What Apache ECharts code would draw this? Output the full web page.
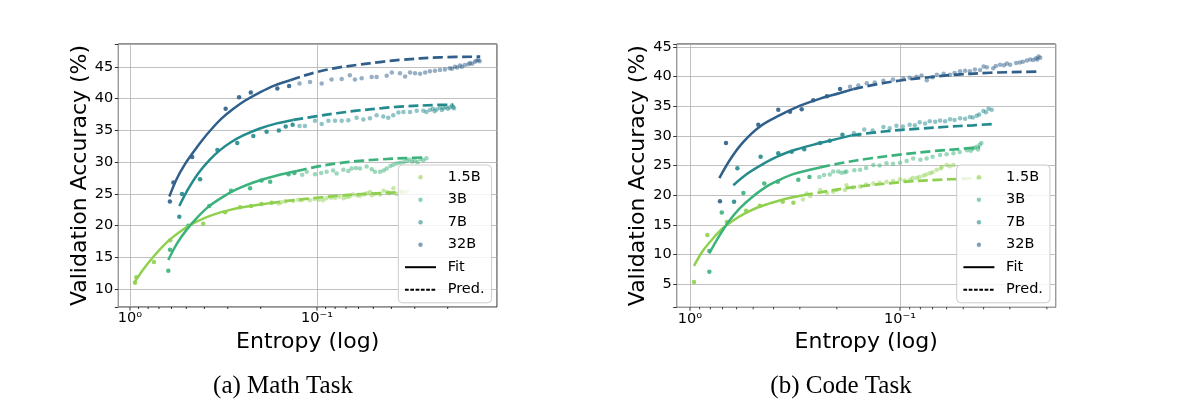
<!DOCTYPE html>
<html>
<head>
<meta charset="utf-8">
<title>Entropy vs Validation Accuracy</title>
<script src="https://cdn.jsdelivr.net/npm/echarts/dist/echarts.min.js"></script>
<style>
  html, body { margin: 0; padding: 0; background: #fff; }
  #main { width: 1200px; height: 416px; }
</style>
</head>
<body>
<div id="main"></div>
<script>
// ---- data: [entropy, accuracy %] ----
var modelNames = ['1.5B', '3B', '7B', '32B'];
var modelColors = ['#8fd14f', '#3bb27b', '#238a8d', '#2f5f8a'];
var majorTicks = [1, 0.1];
var minorTicks = [0.9, 0.8, 0.7, 0.6, 0.5, 0.4, 0.3, 0.2, 0.09, 0.08, 0.07, 0.06, 0.05, 0.04, 0.03, 0.02];

// (a) Math task
var math15Pts = [[0.94,11.0],[0.925,11.9],[0.745,14.3],[0.61,17.7],[0.406,20.3],[0.31,22.1],[0.258,22.9],[0.225,23.1],[0.198,23.4],[0.175,23.6]];
var math15PredPts = [[0.16,23.5],[0.155,23.7],[0.148,23.8],[0.134,23.9],[0.126,24.1],[0.121,24.0],[0.109,24.0],[0.103,24.2],[0.098,24.1],[0.093,24.0],[0.089,24.3],[0.084,24.4],[0.080,24.4],[0.076,24.6],[0.072,24.3],[0.069,24.5],[0.067,24.6],[0.064,24.9],[0.061,24.8],[0.059,24.7],[0.056,24.9],[0.054,25.1],[0.052,25.3],[0.051,24.8],[0.049,25.0],[0.046,24.9],[0.044,25.5],[0.042,25.3],[0.041,25.1],[0.039,25.9],[0.0375,25.0],[0.036,25.5],[0.0345,25.3],[0.033,25.4]];
var math15FitLine = [[0.952,10.95],[0.85,13.1],[0.75,15.1],[0.66,16.9],[0.59,18.2],[0.52,19.4],[0.46,20.35],[0.40,21.2],[0.345,21.9],[0.295,22.45],[0.25,22.9],[0.21,23.25],[0.178,23.55]];
var math15PredLine = [[0.178,23.55],[0.14,23.95],[0.1,24.4],[0.075,24.75],[0.055,25.0],[0.0345,25.3]];

var math3Pts = [[0.624,12.9],[0.611,16.2],[0.488,20.0],[0.377,23.1],[0.288,25.5],[0.228,25.9],[0.198,27.1],[0.178,26.9],[0.142,28.1],[0.132,28.3]];
var math3PredPts = [[0.12,28.0],[0.1135,28.5],[0.1025,28.1],[0.095,28.3],[0.0888,28.5],[0.082,28.7],[0.0785,28.2],[0.0723,28.8],[0.068,28.6],[0.0653,29.0],[0.062,29.1],[0.0589,29.0],[0.0543,29.3],[0.051,28.9],[0.049,28.5],[0.046,28.5],[0.044,28.7],[0.0424,29.0],[0.0405,29.4],[0.0391,29.6],[0.0375,29.8],[0.036,29.9],[0.0345,30.0],[0.0331,30.2],[0.032,30.4],[0.031,30.1],[0.030,30.3],[0.029,30.0],[0.028,30.5],[0.027,30.3],[0.026,30.6]];
var math3FitLine = [[0.624,14.6],[0.56,17.2],[0.5,19.3],[0.44,21.2],[0.38,23.0],[0.32,24.5],[0.27,25.7],[0.219,26.8],[0.164,27.9],[0.128,28.6]];
var math3PredLine = [[0.128,28.6],[0.1,29.3],[0.078,29.8],[0.059,30.2],[0.045,30.45],[0.033,30.65],[0.026,30.75]];

var math7Pts = [[0.545,21.4],[0.527,25.0],[0.422,27.3],[0.341,31.9],[0.267,33.0],[0.219,34.1],[0.186,34.8],[0.16,35.0],[0.147,35.6],[0.135,35.9]];
var math7PredPts = [[0.124,35.7],[0.116,35.7],[0.1025,36.5],[0.0944,36.0],[0.0869,36.5],[0.0801,36.5],[0.0738,36.5],[0.068,36.6],[0.0614,37.0],[0.0565,36.7],[0.0521,36.9],[0.048,37.4],[0.0442,37.2],[0.0416,37.0],[0.0391,37.4],[0.0367,37.8],[0.0345,37.9],[0.0318,37.9],[0.0293,38.1],[0.027,38.1],[0.026,37.9],[0.0249,38.2],[0.024,38.4],[0.0235,38.0],[0.0229,38.3],[0.022,38.6],[0.0215,38.2],[0.0211,38.5],[0.0205,38.7],[0.02,38.4],[0.0195,38.6],[0.019,38.9],[0.0187,38.7],[0.0185,38.5]];
var math7FitLine = [[0.545,23.1],[0.49,25.7],[0.43,28.3],[0.374,30.4],[0.33,31.9],[0.29,33.1],[0.248,34.2],[0.202,35.3],[0.164,36.1],[0.134,36.65]];
var math7PredLine = [[0.134,36.65],[0.1,37.25],[0.0785,37.7],[0.0614,38.1],[0.045,38.5],[0.036,38.75],[0.0229,39.0],[0.0187,39.05]];

var math32Pts = [[0.612,23.8],[0.586,26.8],[0.465,30.8],[0.308,38.4],[0.261,40.2],[0.226,40.95],[0.163,41.6],[0.141,42.0]];
var math32PredPts = [[0.124,42.4],[0.109,42.6],[0.0944,42.4],[0.0836,43.0],[0.0738,43.1],[0.0667,43.7],[0.0627,43.0],[0.0577,43.2],[0.051,43.4],[0.048,43.4],[0.0424,43.6],[0.0398,44.1],[0.036,44.0],[0.0338,43.5],[0.0318,44.1],[0.0299,44.0],[0.0281,43.9],[0.0264,44.1],[0.0249,44.3],[0.0234,44.4],[0.022,44.5],[0.0207,44.6],[0.0195,44.8],[0.019,44.7],[0.0183,45.0],[0.0178,44.9],[0.0172,45.2],[0.0168,45.0],[0.0162,45.3],[0.0155,45.4],[0.0152,45.6],[0.0148,45.5],[0.0143,45.8],[0.014,46.0],[0.0137,46.1],[0.0135,45.9]];
var math32FitLine = [[0.616,24.6],[0.562,27.4],[0.51,29.6],[0.458,31.6],[0.41,33.5],[0.364,35.3],[0.32,37.0],[0.28,38.4],[0.242,39.7],[0.202,41.0],[0.168,42.1],[0.139,42.9]];
var math32PredLine = [[0.139,42.9],[0.118,43.6],[0.1,44.2],[0.0785,44.85],[0.0614,45.3],[0.045,45.8],[0.036,46.1],[0.022,46.5],[0.0134,46.6]];

// (b) Code task
var code15Pts = [[0.957,5.4],[0.827,13.3],[0.668,15.5],[0.541,17.4],[0.465,18.25],[0.362,18.9],[0.322,18.75]];
var code15PredPts = [[0.29,19.3],[0.278,20.3],[0.268,19.9],[0.24,20.9],[0.223,20.4],[0.208,20.6],[0.2,20.9],[0.183,20.9],[0.18,21.7],[0.168,21.3],[0.155,21.5],[0.145,21.8],[0.134,22.0],[0.125,22.1],[0.116,22.3],[0.108,22.4],[0.1,22.7],[0.095,22.5],[0.0896,22.6],[0.087,22.9],[0.0833,22.9],[0.081,23.1],[0.0774,23.3],[0.075,23.5],[0.072,23.7],[0.07,23.9],[0.0669,24.3],[0.064,24.5],[0.0633,24.8],[0.06,25.1],[0.058,24.9],[0.0557,25.1]];
var code15FitLine = [[0.957,8.1],[0.87,10.6],[0.774,12.8],[0.7,14.4],[0.62,15.8],[0.55,16.9],[0.48,17.9],[0.42,18.6],[0.36,19.3],[0.29,20.0]];
var code15PredLine = [[0.29,20.0],[0.24,20.5],[0.173,21.3],[0.1,22.2],[0.0708,22.55],[0.0408,22.9]];

var code3Pts = [[0.809,7.1],[0.809,10.6],[0.706,17.1],[0.557,20.4],[0.443,22.0],[0.382,22.3],[0.305,22.6],[0.27,23.1]];
var code3PredPts = [[0.242,23.1],[0.23,23.4],[0.216,23.5],[0.208,24.0],[0.197,24.0],[0.19,23.8],[0.183,23.9],[0.18,24.0],[0.165,24.2],[0.155,24.3],[0.145,24.6],[0.134,25.1],[0.125,25.0],[0.116,25.4],[0.108,25.3],[0.1,25.5],[0.093,25.8],[0.0866,26.2],[0.08,26.0],[0.0747,26.2],[0.07,26.5],[0.0645,26.8],[0.06,26.9],[0.0557,27.1],[0.052,27.3],[0.048,27.6],[0.046,27.5],[0.045,27.9],[0.044,28.0],[0.043,28.2],[0.0425,27.7],[0.0417,28.5],[0.041,28.8]];
var code3FitLine = [[0.81,10.2],[0.73,13.0],[0.65,15.7],[0.58,17.8],[0.51,19.6],[0.44,21.3],[0.38,22.5],[0.32,23.6],[0.24,24.7]];
var code3PredLine = [[0.24,24.7],[0.193,25.4],[0.14,26.2],[0.1,26.85],[0.07,27.45],[0.05,27.85],[0.0416,28.1]];

var code7Pts = [[0.617,18.9],[0.595,24.55],[0.461,26.5],[0.38,27.1],[0.328,27.35],[0.286,27.75],[0.24,28.8],[0.216,29.2],[0.188,30.2]];
var code7PredPts = [[0.166,30.5],[0.157,30.2],[0.148,31.1],[0.135,30.9],[0.12,31.5],[0.112,31.3],[0.104,31.7],[0.097,31.6],[0.09,31.9],[0.085,31.8],[0.0806,32.3],[0.076,32.1],[0.0722,32.5],[0.068,32.4],[0.0645,32.6],[0.061,32.5],[0.0578,32.8],[0.055,32.7],[0.0518,33.0],[0.049,32.9],[0.0465,33.2],[0.045,33.1],[0.0431,33.4],[0.042,33.6],[0.0401,34.2],[0.039,34.0],[0.0379,34.6],[0.0366,34.4]];
var code7FitLine = [[0.622,21.7],[0.53,23.7],[0.448,25.3],[0.38,26.6],[0.31,27.75],[0.26,28.5],[0.216,29.2],[0.17,30.1]];
var code7PredLine = [[0.17,30.1],[0.12,30.75],[0.08,31.25],[0.06,31.55],[0.045,31.8],[0.0366,32.0]];

var code32Pts = [[0.72,19.0],[0.674,28.8],[0.473,31.9],[0.38,34.4],[0.334,34.1],[0.294,34.5],[0.259,36.0],[0.223,36.7],[0.193,37.9]];
var code32PredPts = [[0.173,38.3],[0.158,38.5],[0.144,38.9],[0.132,39.0],[0.12,39.3],[0.108,39.5],[0.0964,39.7],[0.09,39.8],[0.0834,40.0],[0.079,40.2],[0.0746,39.4],[0.07,39.9],[0.0668,40.3],[0.062,40.5],[0.0578,40.3],[0.055,40.6],[0.0518,40.9],[0.049,41.0],[0.0465,40.9],[0.044,41.2],[0.0416,41.1],[0.04,41.7],[0.0386,41.6],[0.036,41.4],[0.035,41.8],[0.0334,42.0],[0.032,41.9],[0.031,42.2],[0.0299,42.0],[0.028,42.3],[0.0269,42.4],[0.026,42.5],[0.0249,42.7],[0.024,42.9],[0.0232,42.8],[0.0225,43.1],[0.0222,42.9],[0.0219,43.4],[0.0215,43.2]];
var code32FitLine = [[0.725,22.9],[0.645,26.0],[0.557,29.0],[0.464,31.6],[0.373,33.5],[0.299,35.1],[0.24,36.3],[0.193,37.25],[0.167,37.9]];
var code32PredLine = [[0.167,37.9],[0.13,38.7],[0.1,39.35],[0.075,39.85],[0.0578,40.25],[0.0373,40.65],[0.0219,40.85]];

// axis ranges
var mathX = [0.0109, 1.155], mathY = [7.2, 48.6];
var codeX = [0.01815, 1.157], codeY = [1.12, 45.5];

var FONT = 'DejaVu Sans';
var supMap = { '0': '\u2070', '1': '\u00b9', '2': '\u00b2', '3': '\u00b3', '-': '\u207b' };

function powLabel(v) {
    var l = Math.log(v) / Math.LN10;
    var e = Math.round(l);
    if (Math.abs(l - e) > 1e-6) return '';
    return '10' + String(e).split('').map(function (c) { return supMap[c]; }).join('');
}

function xAxisFor(gi, range) {
    return {
        type: 'log', logBase: 10, gridIndex: gi, inverse: true,
        min: range[0], max: range[1],
        axisLine: { show: false }, axisTick: { show: false },
        splitLine: { show: true, lineStyle: { color: '#b0b0b0', width: 0.8 } },
        axisLabel: { formatter: powLabel, fontFamily: FONT, fontSize: 14.5, color: '#000', margin: 4 },
        name: 'Entropy (log)', nameLocation: 'middle', nameGap: 21,
        nameTextStyle: { fontFamily: FONT, fontSize: 22, color: '#000' }
    };
}

function yAxisFor(gi, range) {
    return {
        type: 'value', gridIndex: gi, min: range[0], max: range[1],
        splitNumber: 8, minInterval: 5, maxInterval: 5,
        axisLine: { show: false },
        axisTick: { show: true, length: 3.5, lineStyle: { color: '#000', width: 0.8 } },
        splitLine: { show: true, lineStyle: { color: '#b0b0b0', width: 0.8 } },
        axisLabel: {
            formatter: function (v) { return Math.abs(v % 5) < 1e-9 ? String(v) : ''; },
            fontFamily: FONT, fontSize: 14.5, color: '#000', margin: 5
        },
        name: 'Validation Accuracy (%)', nameLocation: 'middle', nameGap: 27,
        nameTextStyle: { fontFamily: FONT, fontSize: 22, color: '#000' }
    };
}

// matplotlib-style log ticks under the x axis
function tickSeries(gi, vals, len, yMin) {
    return {
        type: 'custom', xAxisIndex: gi, yAxisIndex: gi, silent: true, clip: false,
        data: vals.map(function (v) { return [v, yMin]; }),
        renderItem: function (params, api) {
            var cs = params.coordSys;
            var x = api.coord([api.value(0), api.value(1)])[0];
            var b = cs.y + cs.height;
            return { type: 'line', shape: { x1: x, y1: b, x2: x, y2: b + len },
                     style: { stroke: '#000', lineWidth: 0.8 } };
        }
    };
}

function modelSeries(gi, k, pts, predPts, fitLine, predLine) {
    var c = modelColors[k], n = modelNames[k];
    return [
        { type: 'scatter', name: n, xAxisIndex: gi, yAxisIndex: gi, data: predPts,
          symbolSize: 4.5, itemStyle: { color: c, opacity: 0.5 }, z: 2 },
        { type: 'scatter', name: n, xAxisIndex: gi, yAxisIndex: gi, data: pts,
          symbolSize: 4.5, itemStyle: { color: c, opacity: 0.9 }, z: 2 },
        { type: 'line', name: n + ' fit', xAxisIndex: gi, yAxisIndex: gi, data: fitLine,
          symbol: 'none', smooth: 0.35, lineStyle: { color: c, width: 2.5 }, z: 3 },
        { type: 'line', name: n + ' pred', xAxisIndex: gi, yAxisIndex: gi, data: predLine,
          symbol: 'none', smooth: 0.35, lineStyle: { color: c, width: 2.7, type: [10, 4.5] }, z: 3 }
    ];
}

// small dot inside a 31x14 box for the scatter legend entries
var dotIcon = 'path://M0,0M31,14M13.3,7A2.2,2.2,0,1,1,17.7,7A2.2,2.2,0,1,1,13.3,7Z';

function legendAt(left, top) {
    var items = modelNames.map(function (n) {
        return { name: n, icon: dotIcon, itemStyle: { opacity: 0.6 } };
    });
    items.push({ name: 'Fit', itemStyle: { opacity: 0 } });
    items.push({ name: 'Pred.', itemStyle: { opacity: 0 } });
    return {
        data: items, orient: 'vertical', left: left, top: top,
        itemWidth: 31, itemHeight: 14, itemGap: 7.5,
        padding: [4.7, 7, 5.6, 5.7],
        backgroundColor: 'rgba(255,255,255,0.8)', borderColor: '#cccccc', borderWidth: 1, borderRadius: 4,
        selectedMode: false,
        textStyle: { fontFamily: FONT, fontSize: 14.5, color: '#000', padding: [0, 0, 0, 6.7] }
    };
}

var series = [];
series = series.concat(
    modelSeries(0, 0, math15Pts, math15PredPts, math15FitLine, math15PredLine),
    modelSeries(0, 1, math3Pts, math3PredPts, math3FitLine, math3PredLine),
    modelSeries(0, 2, math7Pts, math7PredPts, math7FitLine, math7PredLine),
    modelSeries(0, 3, math32Pts, math32PredPts, math32FitLine, math32PredLine),
    modelSeries(1, 0, code15Pts, code15PredPts, code15FitLine, code15PredLine),
    modelSeries(1, 1, code3Pts, code3PredPts, code3FitLine, code3PredLine),
    modelSeries(1, 2, code7Pts, code7PredPts, code7FitLine, code7PredLine),
    modelSeries(1, 3, code32Pts, code32PredPts, code32FitLine, code32PredLine)
);
// legend-only entries
series.push({ type: 'line', name: 'Fit', xAxisIndex: 0, yAxisIndex: 0, data: [], symbol: 'none',
              itemStyle: { color: '#000' }, lineStyle: { color: '#000', width: 1.3 } });
series.push({ type: 'line', name: 'Pred.', xAxisIndex: 0, yAxisIndex: 0, data: [], symbol: 'none',
              itemStyle: { color: '#000' }, lineStyle: { color: '#000', width: 1.2, type: [3.7, 1.6] } });
series.push(tickSeries(0, majorTicks, 3.5, mathY[0]), tickSeries(0, minorTicks, 2, mathY[0]));
series.push(tickSeries(1, majorTicks, 3.5, codeY[0]), tickSeries(1, minorTicks, 2, codeY[0]));

var option = {
    animation: false,
    backgroundColor: '#fff',
    title: [
        { text: '(a) Math Task', left: 283, top: 374, textAlign: 'center', padding: 0,
          textStyle: { fontFamily: 'Liberation Serif', fontSize: 25, fontWeight: 'normal', color: '#000' } },
        { text: '(b) Code Task', left: 841, top: 374, textAlign: 'center', padding: 0,
          textStyle: { fontFamily: 'Liberation Serif', fontSize: 25, fontWeight: 'normal', color: '#000' } }
    ],
    grid: [
        { left: 118.3, right: 703, top: 44, bottom: 109, show: true, borderColor: '#222', borderWidth: 1, backgroundColor: 'transparent' },
        { left: 676.7, right: 144.3, top: 44, bottom: 108.7, show: true, borderColor: '#222', borderWidth: 1, backgroundColor: 'transparent' }
    ],
    xAxis: [xAxisFor(0, mathX), xAxisFor(1, codeX)],
    yAxis: [yAxisFor(0, mathY), yAxisFor(1, codeY)],
    legend: [legendAt(398.3, 165), legendAt(956.7, 165)],
    series: series
};

var myChart = echarts.init(document.getElementById('main'));
myChart.setOption(option);
</script>
</body>
</html>
